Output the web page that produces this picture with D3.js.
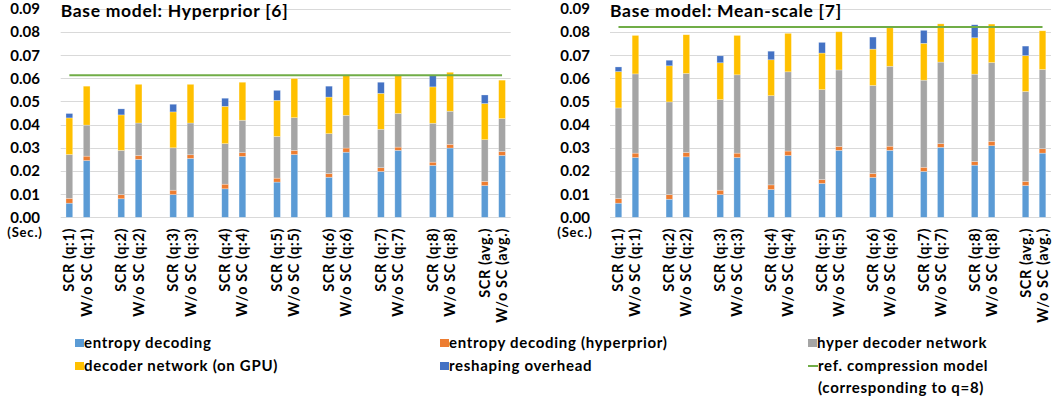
<!DOCTYPE html>
<html>
<head>
<meta charset="utf-8">
<title>Decoding time breakdown</title>
<script src="https://d3js.org/d3.v7.min.js"></script>
<style>
  body { margin: 0; background: #fff; }
  text { font-family: Lato, "Noto Sans", sans-serif; font-weight: bold; fill: #000; }
</style>
</head>
<body>
<div id="chart"></div>
<script>
// categories (x axis)
const categories = [
  "SCR (q:1)", "W/o SC (q:1)", "SCR (q:2)", "W/o SC (q:2)", "SCR (q:3)", "W/o SC (q:3)",
  "SCR (q:4)", "W/o SC (q:4)", "SCR (q:5)", "W/o SC (q:5)", "SCR (q:6)", "W/o SC (q:6)",
  "SCR (q:7)", "W/o SC (q:7)", "SCR (q:8)", "W/o SC (q:8)", "SCR (avg.)", "W/o SC (avg.)"
];
const seriesNames = ["entropy decoding", "entropy decoding (hyperprior)", "hyper decoder network",
  "decoder network (on GPU)", "reshaping overhead"];
const seriesColors = ["#5B9BD5", "#ED7D31", "#A5A5A5", "#FFC000", "#4472C4"];
const yTicks = [0, 0.01, 0.02, 0.03, 0.04, 0.05, 0.06, 0.07, 0.08, 0.09];

// Base model: Hyperprior [6]
const hpEntropy = [0.0061, 0.0245, 0.0080, 0.0250, 0.0098, 0.0254, 0.0123, 0.0263, 0.0152, 0.0271, 0.0173, 0.0281, 0.0198, 0.0289, 0.0224, 0.0299, 0.0137, 0.0267];
const hpEntropyHyper = [0.0021, 0.0019, 0.0018, 0.0017, 0.0019, 0.0016, 0.0020, 0.0016, 0.0017, 0.0018, 0.0016, 0.0018, 0.0016, 0.0014, 0.0014, 0.0016, 0.0018, 0.0017];
const hpHyperDec = [0.0189, 0.0134, 0.0191, 0.0140, 0.0183, 0.0137, 0.0175, 0.0140, 0.0180, 0.0141, 0.0172, 0.0141, 0.0166, 0.0145, 0.0168, 0.0143, 0.0180, 0.0142];
const hpDecoder = [0.0158, 0.0168, 0.0153, 0.0167, 0.0155, 0.0167, 0.0161, 0.0164, 0.0156, 0.0169, 0.0158, 0.0172, 0.0155, 0.0164, 0.0157, 0.0168, 0.0156, 0.0166];
const hpReshape = [0.0019, 0, 0.0026, 0, 0.0033, 0, 0.0035, 0, 0.0043, 0, 0.0047, 0, 0.0048, 0, 0.0049, 0, 0.0037, 0];
const hpRef = 0.0613;

// Base model: Mean-scale [7]
const msEntropy = [0.0061, 0.0258, 0.0078, 0.0261, 0.0098, 0.0258, 0.0120, 0.0267, 0.0146, 0.0289, 0.0172, 0.0289, 0.0198, 0.0302, 0.0225, 0.0309, 0.0137, 0.0277];
const msEntropyHyper = [0.0020, 0.0019, 0.0020, 0.0019, 0.0019, 0.0019, 0.0020, 0.0019, 0.0017, 0.0017, 0.0017, 0.0018, 0.0018, 0.0016, 0.0016, 0.0019, 0.0018, 0.0019];
const msHyperDec = [0.0391, 0.0342, 0.0400, 0.0341, 0.0391, 0.0338, 0.0385, 0.0342, 0.0388, 0.0330, 0.0380, 0.0345, 0.0376, 0.0352, 0.0377, 0.0340, 0.0388, 0.0342];
const msDecoder = [0.0157, 0.0166, 0.0156, 0.0167, 0.0159, 0.0170, 0.0155, 0.0166, 0.0158, 0.0165, 0.0157, 0.0166, 0.0159, 0.0165, 0.0157, 0.0166, 0.0155, 0.0167];
const msReshape = [0.0020, 0, 0.0024, 0, 0.0030, 0, 0.0037, 0, 0.0046, 0, 0.0052, 0, 0.0056, 0, 0.0056, 0, 0.0041, 0];
const msRef = 0.0821;

const width = 1053, height = 402;
const svg = d3.select("#chart").append("svg")
  .attr("width", width).attr("height", height);

// slots: two bars per group, then an empty slot
const slotKeys = [];
categories.forEach((c, i) => {
  slotKeys.push(c);
  if (i % 2 === 1 && i < categories.length - 1) slotKeys.push("gap" + i);
});

function drawChart(cfg) {
  const x = d3.scaleBand().domain(slotKeys).range([cfg.left, cfg.right]).paddingInner(0).paddingOuter(0);
  const y = d3.scaleLinear().domain([0, 0.09]).range([217.3, 8.8]);
  const barW = x.bandwidth() * 0.39;

  const g = svg.append("g");

  // gridlines
  g.selectAll(".grid").data(yTicks).join("line")
    .attr("x1", cfg.left).attr("x2", cfg.right)
    .attr("y1", d => Math.round(y(d)) + 0.5).attr("y2", d => Math.round(y(d)) + 0.5)
    .attr("stroke", "#D9D9D9").attr("stroke-width", 1);

  // y labels
  g.selectAll(".ylab").data(yTicks).join("text")
    .attr("x", cfg.labelX).attr("y", d => y(d))
    .attr("dy", "0.36em").attr("text-anchor", "end")
    .style("font-size", "15px")
    .text(d => d3.format(".2f")(d));

  g.append("text")
    .attr("x", cfg.labelX - 15).attr("y", 237)
    .attr("text-anchor", "middle").style("font-size", "13px")
    .style("letter-spacing", "0.8px")
    .text("(Sec.)");

  // stacked bars
  const rows = categories.map((c, i) => {
    const r = { cat: c };
    seriesNames.forEach((s, k) => r[s] = cfg.series[k][i]);
    return r;
  });
  const stacked = d3.stack().keys(seriesNames)(rows);
  stacked.forEach((layer, k) => {
    g.append("g").attr("fill", seriesColors[k])
      .selectAll("rect").data(layer.filter(d => d[1] - d[0] > 0)).join("rect")
      .attr("x", d => x(d.data.cat) + (x.bandwidth() - barW) / 2)
      .attr("width", barW)
      .attr("y", d => y(d[1]))
      .attr("height", d => y(d[0]) - y(d[1]))
      .attr("stroke", "#fff").attr("stroke-opacity", 0.45).attr("stroke-width", 0.6);
  });

  // reference line across categories
  const c0 = x(categories[0]) + x.bandwidth() / 2;
  const c1 = x(categories[categories.length - 1]) + x.bandwidth() / 2;
  g.append("line")
    .attr("x1", c0).attr("x2", c1)
    .attr("y1", y(cfg.ref)).attr("y2", y(cfg.ref))
    .attr("stroke", "#70AD47").attr("stroke-width", 2);

  // title
  g.append("text")
    .attr("x", cfg.left).attr("y", 17)
    .style("font-size", "17.5px").style("letter-spacing", "0.7px")
    .text(cfg.title);

  // x labels (rotated)
  g.selectAll(".xlab").data(categories).join("text")
    .attr("transform", d => `translate(${x(d) + x.bandwidth() / 2 + 5},228) rotate(-90)`)
    .attr("text-anchor", "end")
    .style("font-size", "14.5px").style("letter-spacing", "0.6px")
    .text(d => d);
}

drawChart({
  left: 60.7, right: 510.7, labelX: 40,
  title: "Base model: Hyperprior [6]",
  series: [hpEntropy, hpEntropyHyper, hpHyperDec, hpDecoder, hpReshape],
  ref: hpRef
});
drawChart({
  left: 610, right: 1051, labelX: 590,
  title: "Base model: Mean-scale [7]",
  series: [msEntropy, msEntropyHyper, msHyperDec, msDecoder, msReshape],
  ref: msRef
});

// legend
const legendItems = [
  { name: seriesNames[0], color: seriesColors[0], x: 75, y: 343 },
  { name: seriesNames[1], color: seriesColors[1], x: 440, y: 343 },
  { name: seriesNames[2], color: seriesColors[2], x: 808, y: 343 },
  { name: seriesNames[3], color: seriesColors[3], x: 75, y: 366 },
  { name: seriesNames[4], color: seriesColors[4], x: 440, y: 366 }
];
const legend = svg.append("g");
const legendText = sel => sel.style("font-size", "15px").style("letter-spacing", "0.7px");
legendItems.forEach(it => {
  legend.append("rect").attr("x", it.x).attr("y", it.y - 4).attr("width", 9).attr("height", 8).attr("fill", it.color);
  legend.append("text").attr("x", it.x + 9).attr("y", it.y).attr("dy", "0.35em")
    .call(legendText).text(it.name);
});
legend.append("line").attr("x1", 808).attr("x2", 818).attr("y1", 366).attr("y2", 366)
  .attr("stroke", "#70AD47").attr("stroke-width", 2);
legend.append("text").attr("x", 818).attr("y", 366).attr("dy", "0.35em")
  .call(legendText).text("ref. compression model");
legend.append("text").attr("x", 818).attr("y", 388).attr("dy", "0.35em")
  .call(legendText).text("(corresponding to q=8)");
</script>
</body>
</html>
